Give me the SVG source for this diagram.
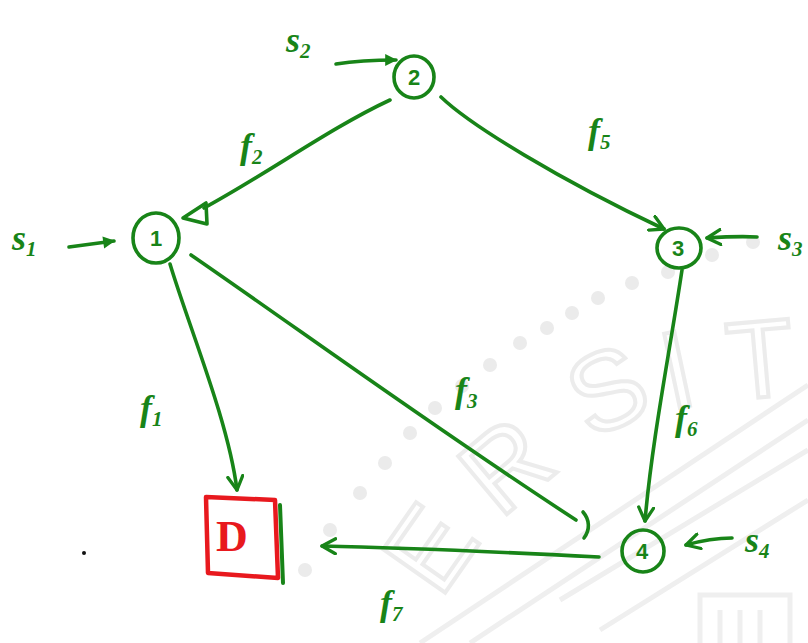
<svg xmlns="http://www.w3.org/2000/svg" width="808" height="643" viewBox="0 0 808 643">
  <style>
    .ink { fill: none; stroke: #188418; stroke-width: 3.6; stroke-linecap: round; stroke-linejoin: round; }
    .num { font-family: "Liberation Sans", "DejaVu Sans", sans-serif; font-size: 22px; font-weight: bold; fill: #188418; text-anchor: middle; }
    .lbl { font-family: "Liberation Serif", "DejaVu Serif", serif; font-style: italic; font-weight: bold; font-size: 36px; fill: #188418; }
    .sub { font-size: 21px; }
    .wm { fill: none; stroke: #efefef; stroke-width: 5; }
    .wmtxt { font-family: "Liberation Sans", sans-serif; font-size: 110px; fill: none; stroke: #ececec; stroke-width: 4; }
    .dot { fill: #ebebeb; }
  </style>
  <defs>
    <marker id="head" viewBox="0 0 12 12" refX="10" refY="6" markerWidth="5" markerHeight="5" orient="auto" markerUnits="strokeWidth">
      <path d="M1,1 L10,6 L1,11" fill="none" stroke="#188418" stroke-width="2.2" stroke-linecap="round" stroke-linejoin="round"/>
    </marker>
    <marker id="solid" viewBox="0 0 12 12" refX="10" refY="6" markerWidth="4" markerHeight="4" orient="auto" markerUnits="strokeWidth">
      <path d="M1,1 L11,6 L1,11 Z" fill="#188418"/>
    </marker>
  </defs>

  <rect width="808" height="643" fill="#ffffff"/>

  <!-- faint seal in the background -->
  <g id="seal">
    <path class="wm" d="M420,643 L808,385"/>
    <path class="wm" d="M470,643 L808,420"/>
    <path class="wm" d="M560,600 L808,450"/>
    <path class="wm" d="M600,630 L808,500"/>
    <circle class="dot" cx="360" cy="493" r="7"/>
    <circle class="dot" cx="385" cy="463" r="7"/>
    <circle class="dot" cx="410" cy="433" r="7"/>
    <circle class="dot" cx="435" cy="408" r="7"/>
    <circle class="dot" cx="462" cy="386" r="7"/>
    <circle class="dot" cx="490" cy="365" r="7"/>
    <circle class="dot" cx="520" cy="343" r="7"/>
    <circle class="dot" cx="547" cy="328" r="7"/>
    <circle class="dot" cx="572" cy="313" r="7"/>
    <circle class="dot" cx="598" cy="298" r="7"/>
    <circle class="dot" cx="632" cy="283" r="7"/>
    <circle class="dot" cx="668" cy="272" r="7"/>
    <circle class="dot" cx="712" cy="255" r="7"/>
    <circle class="dot" cx="753" cy="242" r="7"/>
    <circle class="dot" cx="330" cy="530" r="7"/>
    <circle class="dot" cx="305" cy="570" r="7"/>
    <text class="wmtxt" transform="translate(440,600) rotate(-55)">E</text>
    <text class="wmtxt" transform="translate(500,520) rotate(-40)">R</text>
    <text class="wmtxt" transform="translate(590,440) rotate(-25)">S</text>
    <text class="wmtxt" transform="translate(670,410) rotate(-12)">I</text>
    <text class="wmtxt" transform="translate(730,400) rotate(-5)">T</text>
    <path class="wm" d="M700,643 L700,595 L790,595 L790,643 M720,643 L720,610 M740,643 L740,610 M760,643 L760,610"/>
  </g>

  <!-- connectors -->
  <g id="connectors">
    <!-- 1 -> D -->
    <path class="ink" d="M170,264 C190,330 228,420 237,490" marker-end="url(#head)"/>
    <!-- 2 -> 1 (open triangle head) -->
    <path class="ink" d="M390,100 C330,128 270,172 204,208"/>
    <path class="ink" d="M183,218 L206,203 L207,224 Z"/>
    <!-- 2 -> 3 -->
    <path class="ink" d="M441,97 C470,125 560,180 664,229" marker-end="url(#head)"/>
    <!-- 1 - 4 -->
    <path class="ink" d="M191,255 C300,330 430,425 576,520"/>
    <path class="ink" d="M583,512 C590,520 590,530 584,538"/>
    <!-- 3 -> 4 -->
    <path class="ink" d="M682,270 C670,350 652,440 645,521" marker-end="url(#head)"/>
    <!-- 4 -> D -->
    <path class="ink" d="M599,557 C520,553 420,548 322,546" marker-end="url(#head)"/>
    <!-- inflows -->
    <path class="ink" d="M69,247 C85,245 100,243 114,241" marker-end="url(#solid)"/>
    <path class="ink" d="M336,64 C355,61 375,60 396,60" marker-end="url(#solid)"/>
    <path class="ink" d="M757,237 C740,236 722,237 707,238" marker-end="url(#head)"/>
    <path class="ink" d="M732,538 C715,538 700,541 686,545" marker-end="url(#head)"/>
  </g>

  <!-- nodes -->
  <g id="node1">
    <ellipse class="ink" cx="156" cy="238" rx="23" ry="25"/>
    <text class="num" x="156" y="246">1</text>
  </g>
  <g id="node2">
    <ellipse class="ink" cx="414" cy="77" rx="20" ry="21"/>
    <text class="num" x="414" y="85">2</text>
  </g>
  <g id="node3">
    <ellipse class="ink" cx="679" cy="248" rx="22" ry="20"/>
    <text class="num" x="678" y="256">3</text>
  </g>
  <g id="node4">
    <ellipse class="ink" cx="643" cy="551" rx="21" ry="21"/>
    <text class="num" x="642" y="559">4</text>
  </g>
  <g id="nodeD">
    <path d="M280,505 L283,583" fill="none" stroke="#188418" stroke-width="4" stroke-linecap="round"/>
    <path d="M206,497 L275,500 L278,578 L208,573 Z" fill="none" stroke="#e8191e" stroke-width="4.5" stroke-linejoin="round"/>
    <text x="232" y="551" font-family="Liberation Serif, DejaVu Serif, serif" font-weight="bold" font-size="44" fill="#e8191e" text-anchor="middle">D</text>
  </g>

  <!-- flow labels -->
  <g id="labels">
    <text class="lbl" x="12" y="250">s<tspan class="sub" dy="6">1</tspan></text>
    <text class="lbl" x="286" y="52">s<tspan class="sub" dy="6">2</tspan></text>
    <text class="lbl" x="778" y="250">s<tspan class="sub" dy="6">3</tspan></text>
    <text class="lbl" x="745" y="552">s<tspan class="sub" dy="6">4</tspan></text>
    <text class="lbl" x="240" y="158">f<tspan class="sub" dy="6">2</tspan></text>
    <text class="lbl" x="588" y="143">f<tspan class="sub" dy="6">5</tspan></text>
    <text class="lbl" x="140" y="420">f<tspan class="sub" dy="6">1</tspan></text>
    <text class="lbl" x="455" y="402">f<tspan class="sub" dy="6">3</tspan></text>
    <text class="lbl" x="675" y="430">f<tspan class="sub" dy="6">6</tspan></text>
    <text class="lbl" x="380" y="615">f<tspan class="sub" dy="6">7</tspan></text>
  </g>

  <circle cx="84" cy="553" r="2" fill="#111"/>
</svg>
